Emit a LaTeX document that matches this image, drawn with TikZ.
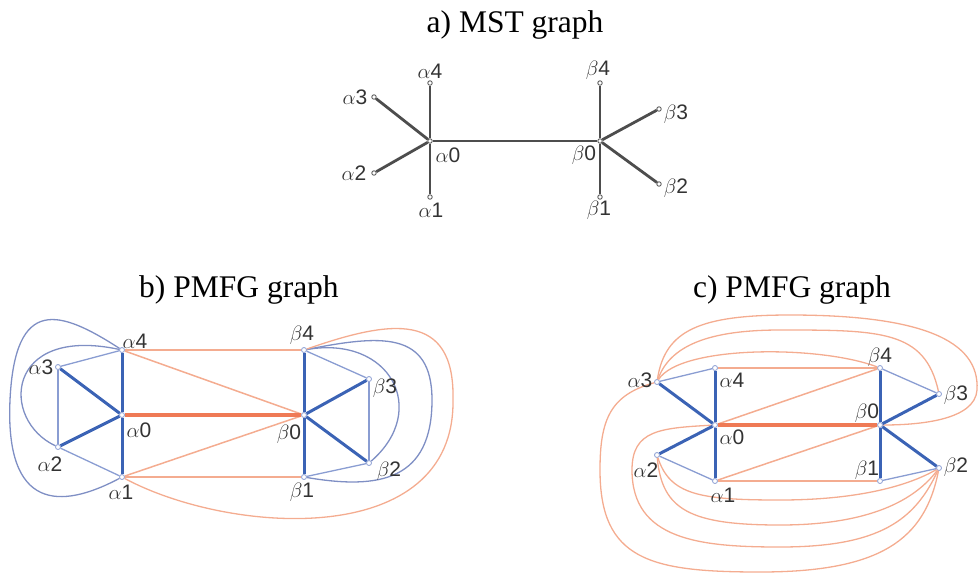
\documentclass[tikz,border=0pt]{standalone}
\usepackage{fontspec}
\setmainfont{Liberation Serif}
\setsansfont{Liberation Sans}
\usetikzlibrary{positioning,calc}
\definecolor{tblue}{HTML}{3B63B5}
\definecolor{lblue}{HTML}{8A9DD2}
\definecolor{cblue}{HTML}{7F8FC4}
\definecolor{torange}{HTML}{EF7A55}
\definecolor{lorange}{HTML}{F4AC90}
\definecolor{mgray}{HTML}{4D4D4D}

\begin{document}
\begin{tikzpicture}[x=1pt,y=-1pt,
  ttl/.style={font=\fontsize{31.5}{32}\selectfont,anchor=base,inner sep=0pt},
  lbl/.style={font=\fontsize{21}{21}\selectfont\sffamily,inner sep=0pt,text=black!80},
  mv/.style={draw=mgray,fill=white,circle,inner sep=0pt,minimum size=4.5pt,line width=0.8pt},
  pv/.style={draw=lblue,fill=white,circle,inner sep=0pt,minimum size=5pt,line width=0.8pt},
  mst/.style={mgray,line width=2.8pt},
  bk/.style={tblue,line width=3pt},
  bt/.style={lblue,line width=1.3pt},
  bc/.style={cblue,line width=1.3pt},
  ok/.style={torange,line width=4.5pt},
  ot/.style={lorange,line width=1.5pt},
  oc/.style={lorange,line width=1.3pt}]
\useasboundingbox(0,0)rectangle(979,574);
% titles
\node[ttl](ta) at(515,32){a) MST graph};
\node[ttl](tb) at(239,297){b) PMFG graph};
\node[ttl](tc) at(792,297){c) PMFG graph};
% a) MST
\node[mv](ma0) at(430,141){};
\node[mv](ma1) at(430,197){};
\node[mv](ma2) at(374,173){};
\node[mv](ma3) at(374,97){};
\node[mv](ma4) at(430,83){};
\node[mv](mb0) at(600,141){};
\node[mv](mb1) at(600,197){};
\node[mv](mb2) at(659,184){};
\node[mv](mb3) at(659,109){};
\node[mv](mb4) at(600,83){};
\draw[mst](ma0)--(ma1);
\draw[mst](ma0)--(ma2);
\draw[mst](ma0)--(ma3);
\draw[mst](ma0)--(ma4);
\draw[mst](mb0)--(mb1);
\draw[mst](mb0)--(mb2);
\draw[mst](mb0)--(mb3);
\draw[mst](mb0)--(mb4);
\draw[mst](ma0)--(mb0);
\node[lbl](lma4) at(430,71){$\alpha$4};
\node[lbl](lma3) at(355,97){$\alpha$3};
\node[lbl](lma2) at(354,173){$\alpha$2};
\node[lbl](lma1) at(431,210){$\alpha$1};
\node[lbl](lma0) at(448,155){$\alpha$0};
\node[lbl](lmb4) at(598,70){$\beta$4};
\node[lbl](lmb3) at(676,114){$\beta$3};
\node[lbl](lmb2) at(676,188){$\beta$2};
\node[lbl](lmb1) at(599,210){$\beta$1};
\node[lbl](lmb0) at(584,155){$\beta$0};
% b) PMFG
\node[pv](pa0) at(122,415){};
\node[pv](pa1) at(122,477){};
\node[pv](pa2) at(58,447){};
\node[pv](pa3) at(58,367){};
\node[pv](pa4) at(122,350){};
\node[pv](pb0) at(304,415){};
\node[pv](pb1) at(304,477){};
\node[pv](pb2) at(369,463){};
\node[pv](pb3) at(369,379){};
\node[pv](pb4) at(304,350){};
\draw[bc](pa4) .. controls(5,325) and (0,420) .. (pa2);
\draw[bc](pa4) .. controls(60,310) and (15,295) .. (10,400) .. controls(5,510) and (60,510) .. (pa1);
\draw[bc](pb4) .. controls(390,335) and (430,410) .. (pb2);
\draw[bc](pb4) .. controls(380,335) and (432,330) .. (432,400) .. controls(432,480) and (380,490) .. (pb1);
\draw[oc](pb4) .. controls(390,320) and (455,310) .. (453,400) .. controls(455,550) and (230,535) .. (pa1);
\draw[bt](pa3)--(pa4);
\draw[bt](pa3)--(pa2);
\draw[bt](pa2)--(pa1);
\draw[bt](pb4)--(pb3);
\draw[bt](pb3)--(pb2);
\draw[bt](pb2)--(pb1);
\draw[ot](pa4)--(pb4);
\draw[ot](pa1)--(pb1);
\draw[ot](pa4)--(pb0);
\draw[ot](pa1)--(pb0);
\draw[ok](pa0)--(pb0);
\draw[bk](pa0)--(pa1);
\draw[bk](pa0)--(pa2);
\draw[bk](pa0)--(pa3);
\draw[bk](pa0)--(pa4);
\draw[bk](pb0)--(pb1);
\draw[bk](pb0)--(pb2);
\draw[bk](pb0)--(pb3);
\draw[bk](pb0)--(pb4);
\node[lbl](lpa4) at(135,341){$\alpha$4};
\node[lbl](lpa3) at(41,367){$\alpha$3};
\node[lbl](lpa0) at(139,430){$\alpha$0};
\node[lbl](lpa2) at(50,464){$\alpha$2};
\node[lbl](lpa1) at(121,492){$\alpha$1};
\node[lbl](lpb4) at(302,335){$\beta$4};
\node[lbl](lpb3) at(385,388){$\beta$3};
\node[lbl](lpb0) at(289,434){$\beta$0};
\node[lbl](lpb2) at(389,471){$\beta$2};
\node[lbl](lpb1) at(302,492){$\beta$1};
% c) PMFG
\node[pv](ca0) at(715,425){};
\node[pv](ca1) at(715,481){};
\node[pv](ca2) at(657,455){};
\node[pv](ca3) at(657,382){};
\node[pv](ca4) at(715,368){};
\node[pv](cb0) at(880,425){};
\node[pv](cb1) at(880,481){};
\node[pv](cb2) at(939,468){};
\node[pv](cb3) at(939,394){};
\node[pv](cb4) at(880,368){};
\draw[oc](ca3) .. controls(680,345) and (820,345) .. (cb4);
\draw[oc](ca3) .. controls(670,345) and (710,330) .. (780,330) .. controls(880,330) and (925,330) .. (cb3);
\draw[oc](ca3) .. controls(665,330) and (700,315) .. (790,315) .. controls(920,315) and (980,340) .. (977,390) .. controls(975,420) and (920,425) .. (cb0);
\draw[oc](ca3) .. controls(610,395) and (600,420) .. (600,470) .. controls(600,560) and (650,572) .. (760,572) .. controls(880,572) and (925,540) .. (cb2);
\draw[oc](ca0) .. controls(660,428) and (632,430) .. (632,470) .. controls(632,540) and (700,547) .. (780,547) .. controls(880,547) and (915,520) .. (cb2);
\draw[oc](ca2) .. controls(670,495) and (700,500) .. (780,500) .. controls(860,500) and (910,485) .. (cb2);
\draw[oc](ca2) .. controls(662,510) and (690,525) .. (780,525) .. controls(870,525) and (915,500) .. (cb2);
\draw[bt](ca3)--(ca4);
\draw[bt](ca2)--(ca1);
\draw[bt](cb4)--(cb3);
\draw[bt](cb2)--(cb1);
\draw[ot](ca4)--(cb4);
\draw[ot](ca1)--(cb1);
\draw[ot](ca0)--(cb4);
\draw[ot](ca1)--(cb0);
\draw[ok](ca0)--(cb0);
\draw[bk](ca0)--(ca1);
\draw[bk](ca0)--(ca2);
\draw[bk](ca0)--(ca3);
\draw[bk](ca0)--(ca4);
\draw[bk](cb0)--(cb1);
\draw[bk](cb0)--(cb2);
\draw[bk](cb0)--(cb3);
\draw[bk](cb0)--(cb4);
\node[lbl](lca3) at(640,380){$\alpha$3};
\node[lbl](lca4) at(732,380){$\alpha$4};
\node[lbl](lca0) at(732,437){$\alpha$0};
\node[lbl](lca2) at(646,470){$\alpha$2};
\node[lbl](lca1) at(723,495){$\alpha$1};
\node[lbl](lcb4) at(880,357){$\beta$4};
\node[lbl](lcb3) at(956,395){$\beta$3};
\node[lbl](lcb0) at(867,413){$\beta$0};
\node[lbl](lcb1) at(867,470){$\beta$1};
\node[lbl](lcb2) at(956,467){$\beta$2};
\end{tikzpicture}
\end{document}
